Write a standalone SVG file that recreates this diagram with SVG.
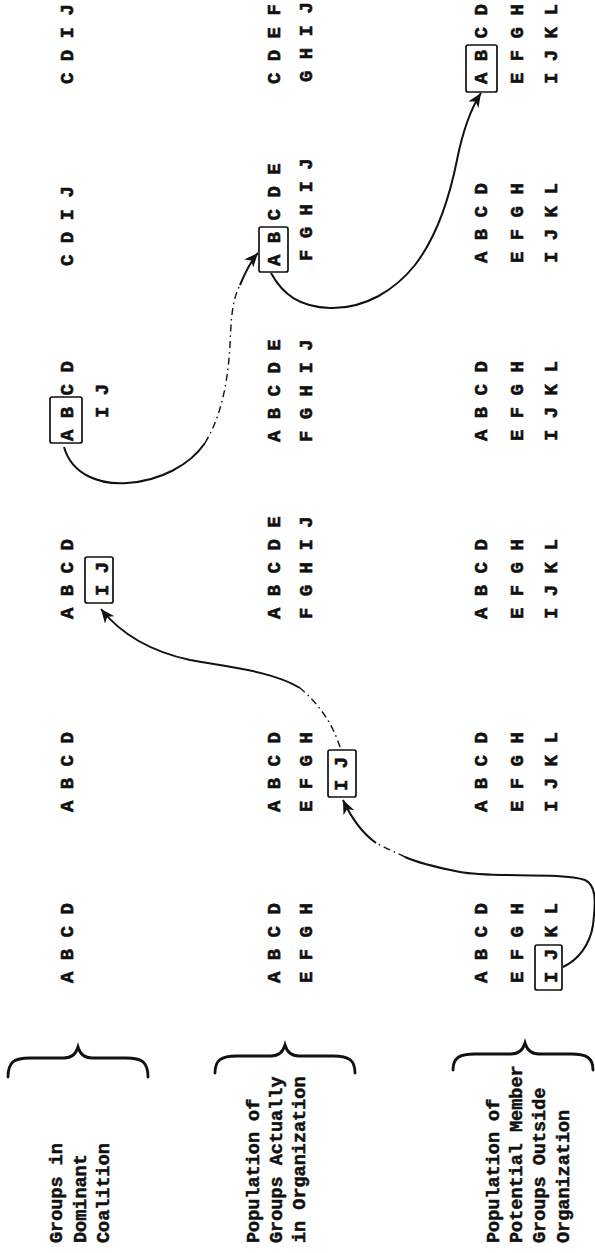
<svg xmlns="http://www.w3.org/2000/svg" width="595" height="1253" viewBox="0 0 595 1253">
<style>
.t{font-family:"Liberation Mono","DejaVu Sans Mono",monospace;font-weight:bold;font-size:19px;fill:#111;stroke:#111;stroke-width:0.6}
.l{font-family:"Liberation Mono","DejaVu Sans Mono",monospace;font-weight:bold;font-size:18.5px;fill:#111;stroke:#111;stroke-width:0.5}
.box{fill:none;stroke:#111;stroke-width:1.7}
.br{fill:none;stroke:#111;stroke-width:2.8;stroke-linecap:round}
.c{fill:none;stroke:#111;stroke-width:2}
.d{fill:none;stroke:#111;stroke-width:1.4;stroke-dasharray:7 4 1.5 4}
</style>
<defs>
<marker id="ah" markerUnits="userSpaceOnUse" markerWidth="16" markerHeight="14" refX="14" refY="6" orient="auto">
<path d="M0,0 L14,6 L0,12 L4,6 z" fill="#111"/>
</marker>
</defs>
<rect width="595" height="1253" fill="#fff"/>

<g id="labels">
<g id="label-dominant">
<path class="br" d="M8,1077 C8,1062 14,1058 30,1058 L64,1058 C72,1058 76,1054 78,1047 C80,1054 84,1058 92,1058 L126,1058 C142,1058 148,1062 148,1077"/>
<text class="l" transform="translate(62,1243) rotate(-90)">Groups in</text>
<text class="l" transform="translate(85.5,1243) rotate(-90)">Dominant</text>
<text class="l" transform="translate(109,1243) rotate(-90)">Coalition</text>
</g>
<g id="label-actual">
<path class="br" d="M215,1073 C215,1060 221,1056 237,1056 L271,1056 C279,1056 283,1052 285,1045 C287,1052 291,1056 299,1056 L333,1056 C349,1056 355,1060 355,1073"/>
<text class="l" transform="translate(259,1243) rotate(-90)">Population of</text>
<text class="l" transform="translate(282,1243) rotate(-90)">Groups Actually</text>
<text class="l" transform="translate(305,1243) rotate(-90)">in Organization</text>
</g>
<g id="label-potential">
<path class="br" d="M453,1070 C453,1058 459,1054 475,1054 L511,1054 C519,1054 523,1050 525,1043 C527,1050 531,1054 539,1054 L571,1054 C587,1054 593,1058 593,1070"/>
<text class="l" transform="translate(499,1243) rotate(-90)">Population of</text>
<text class="l" transform="translate(522,1243) rotate(-90)">Potential Member</text>
<text class="l" transform="translate(545,1243) rotate(-90)">Groups Outside</text>
<text class="l" transform="translate(569,1243) rotate(-90)">Organization</text>
</g>
</g>

<g id="stage1">
<text class="t" transform="translate(73,983) rotate(-90)">A B C D</text>
<text class="t" transform="translate(280,983) rotate(-90)">A B C D</text>
<text class="t" transform="translate(312,983) rotate(-90)">E F G H</text>
<text class="t" transform="translate(487,983) rotate(-90)">A B C D</text>
<text class="t" transform="translate(523,983) rotate(-90)">E F G H</text>
<text class="t" transform="translate(557,983) rotate(-90)">I J K L</text>
<rect class="box" x="535" y="945" width="27" height="45" rx="2"/>
</g>

<g id="stage2">
<text class="t" transform="translate(73,812) rotate(-90)">A B C D</text>
<text class="t" transform="translate(280,812) rotate(-90)">A B C D</text>
<text class="t" transform="translate(312,812) rotate(-90)">E F G H</text>
<text class="t" transform="translate(347,791) rotate(-90)">I J</text>
<rect class="box" x="328" y="750" width="28" height="47" rx="2"/>
<text class="t" transform="translate(487,812) rotate(-90)">A B C D</text>
<text class="t" transform="translate(523,812) rotate(-90)">E F G H</text>
<text class="t" transform="translate(557,812) rotate(-90)">I J K L</text>
</g>

<g id="stage3">
<text class="t" transform="translate(73,619) rotate(-90)">A B C D</text>
<text class="t" transform="translate(108,596) rotate(-90)">I J</text>
<rect class="box" x="85" y="557" width="28" height="46" rx="2"/>
<text class="t" transform="translate(280,619) rotate(-90)">A B C D E</text>
<text class="t" transform="translate(312,619) rotate(-90)">F G H I J</text>
<text class="t" transform="translate(487,619) rotate(-90)">A B C D</text>
<text class="t" transform="translate(523,619) rotate(-90)">E F G H</text>
<text class="t" transform="translate(557,619) rotate(-90)">I J K L</text>
</g>

<g id="stage4">
<text class="t" transform="translate(73,441) rotate(-90)">A B C D</text>
<rect class="box" x="50" y="397" width="32" height="46" rx="2"/>
<text class="t" transform="translate(108,418) rotate(-90)">I J</text>
<text class="t" transform="translate(280,442) rotate(-90)">A B C D E</text>
<text class="t" transform="translate(312,442) rotate(-90)">F G H I J</text>
<text class="t" transform="translate(487,441) rotate(-90)">A B C D</text>
<text class="t" transform="translate(523,441) rotate(-90)">E F G H</text>
<text class="t" transform="translate(557,441) rotate(-90)">I J K L</text>
</g>

<g id="stage5">
<text class="t" transform="translate(73,266) rotate(-90)">C D I J</text>
<text class="t" transform="translate(280,266) rotate(-90)">A B C D E</text>
<rect class="box" x="259" y="227" width="29" height="45" rx="2"/>
<text class="t" transform="translate(312,261) rotate(-90)">F G H I J</text>
<text class="t" transform="translate(487,263) rotate(-90)">A B C D</text>
<text class="t" transform="translate(523,263) rotate(-90)">E F G H</text>
<text class="t" transform="translate(557,263) rotate(-90)">I J K L</text>
</g>

<g id="stage6">
<text class="t" transform="translate(73,84) rotate(-90)">C D I J</text>
<text class="t" transform="translate(280,84) rotate(-90)">C D E F</text>
<text class="t" transform="translate(312,82) rotate(-90)">G H I J</text>
<text class="t" transform="translate(487,84) rotate(-90)">A B C D</text>
<rect class="box" x="466" y="45" width="31" height="47" rx="2"/>
<text class="t" transform="translate(523,84) rotate(-90)">E F G H</text>
<text class="t" transform="translate(557,84) rotate(-90)">I J K L</text>
</g>

<g id="connectors">
<path class="c" d="M563,967 C578,960 590,945 593,925 C596,900 596,885 585,880 C560,872 490,878 460,872 C440,868 420,864 405,857"/>
<path class="d" d="M405,857 C395,852 385,848 376,843"/>
<path class="c" d="M376,843 C362,833 350,815 343,800" marker-end="url(#ah)"/>
<path class="d" d="M340,747 C333,725 320,705 300,688"/>
<path class="c" d="M300,688 C272,671 228,667 190,660 C158,653 124,638 101,609" marker-end="url(#ah)"/>
<path class="c" d="M64,447 C72,475 100,485 127,483 C160,481 190,465 205,443"/>
<path class="d" d="M205,443 C222,415 228,380 230,345 C231,320 232,300 240,285"/>
<path class="c" d="M240,285 C245,273 250,262 258,253" marker-end="url(#ah)"/>
<path class="c" d="M271,273 C283,295 300,307 330,308 C365,309 395,290 415,265 C438,235 450,195 457,160 C463,130 470,110 481,93" marker-end="url(#ah)"/>
</g>
</svg>
